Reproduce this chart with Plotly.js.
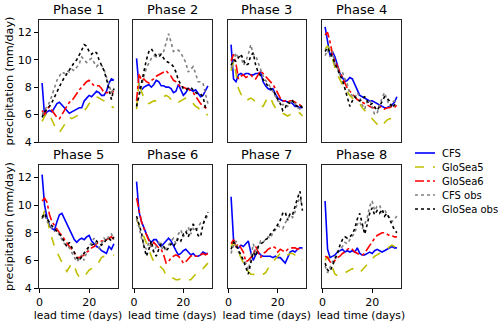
<!DOCTYPE html>
<html>
<head>
<meta charset="utf-8">
<script src="https://cdn.plot.ly/plotly-3.0.1.min.js"></script>
<style>html,body{margin:0;padding:0;background:#fff;}#chart{width:500px;height:324px;}</style>
</head>
<body>
<div id="chart"></div>
<script>
// lead time (days)
const days = [1,2,3,4,5,6,7,8,9,10,11,12,13,14,15,16,17,18,19,20,21,22,23,24,25,26,27,28,29,30];
const phases = ["Phase 1","Phase 2","Phase 3","Phase 4","Phase 5","Phase 6","Phase 7","Phase 8"];
const seriesNames = ["CFS","GloSea5","GloSea6","CFS obs","GloSea obs"];

// CFS forecast, one row per phase
const cfs = [
 [8.3,5.9,6.2,6.3,6.2,6.5,6.8,6.9,6.7,6.5,6.3,6.1,6.2,6.3,6.4,6.5,6.5,7.0,7.2,7.4,7.3,7.5,7.7,7.6,7.4,7.4,7.7,8.3,8.6,8.5],
 [10.1,8.0,7.8,8.0,8.1,8.2,8.0,8.2,8.5,8.4,8.1,8.1,8.0,8.0,7.9,7.6,7.7,8.2,7.8,7.4,7.6,7.9,7.8,7.7,7.8,7.5,7.3,7.4,7.8,8.1],
 [11.1,8.6,8.4,8.9,9.0,8.9,9.0,9.0,8.9,8.9,9.0,9.0,9.1,8.4,8.1,7.9,7.8,7.9,7.5,7.2,7.1,7.0,7.0,6.9,6.9,6.8,6.6,6.6,6.5,6.5],
 [12.4,11.3,10.3,10.6,10.2,9.6,9.0,8.7,8.4,8.5,8.7,8.6,8.2,7.7,7.4,7.3,7.2,7.1,7.0,7.0,6.9,6.8,6.7,6.6,6.5,6.5,6.6,6.7,6.9,7.3],
 [12.2,10.0,9.1,8.5,8.3,8.2,8.8,9.3,9.4,9.0,8.6,8.2,7.9,7.5,7.3,7.5,7.6,7.5,7.7,7.8,7.4,7.2,7.0,6.9,6.7,6.6,6.5,7.0,6.8,7.2],
 [11.7,9.5,8.8,8.3,7.9,7.5,7.3,7.5,7.5,7.2,7.0,7.2,7.4,7.6,7.4,7.0,6.7,6.4,6.5,6.7,6.8,6.6,6.4,6.5,6.3,6.3,6.4,6.6,6.5,6.5],
 [10.6,7.5,7.0,6.9,7.1,7.0,7.2,7.4,6.6,6.0,6.4,6.6,6.4,6.3,6.3,6.3,6.3,6.2,6.3,6.2,6.2,6.0,5.8,6.2,6.6,6.7,6.6,6.8,6.9,6.9],
 [10.3,6.8,6.2,6.3,6.4,6.6,6.7,6.8,6.6,6.7,6.6,6.7,6.6,6.9,6.5,6.4,6.4,6.5,6.6,6.5,6.7,6.8,6.7,6.6,6.7,6.8,6.9,7.0,6.9,6.9]
];
// GloSea5 forecast
const glosea5 = [
 [5.5,5.9,6.2,6.0,5.6,5.1,4.8,4.7,5.0,5.3,5.6,5.8,5.7,5.8,5.9,6.0,6.1,6.3,6.5,6.8,7.0,7.2,7.3,7.2,7.1,7.0,6.9,6.7,6.6,6.5],
 [6.4,8.5,7.7,7.2,6.9,6.8,6.9,7.0,7.0,7.1,7.2,7.3,7.4,7.3,7.1,6.9,6.8,6.9,7.0,7.1,7.2,7.2,7.0,6.8,6.6,6.5,6.3,6.1,6.0,6.0],
 [9.2,9.9,9.0,7.9,7.5,7.3,7.0,7.1,7.2,7.1,6.9,6.8,6.6,6.6,6.9,7.3,7.3,6.8,6.5,6.3,6.2,6.1,6.0,5.9,6.0,6.1,6.2,6.2,6.1,5.9],
 [10.8,11.0,10.7,10.0,9.4,8.9,8.5,8.2,7.9,7.6,7.4,7.2,7.0,6.9,6.8,6.5,6.3,6.1,5.9,5.7,5.5,5.3,5.2,5.1,5.4,5.6,5.7,5.7,5.6,5.6],
 [9.0,9.6,9.2,8.2,7.6,7.0,6.6,6.2,5.9,5.5,5.2,5.5,5.8,5.6,5.1,4.8,4.7,4.8,5.1,5.3,5.4,5.5,5.6,5.9,6.2,6.3,6.3,6.3,6.3,6.4],
 [9.0,8.5,8.1,7.7,7.3,6.8,6.3,5.9,5.7,5.6,5.5,5.3,4.9,4.9,4.8,4.7,4.6,4.6,4.7,4.7,4.6,4.6,4.6,4.8,5.0,5.2,5.3,5.4,5.6,5.8],
 [7.0,7.3,7.0,6.6,6.1,5.7,5.4,5.2,5.0,5.0,4.9,4.9,4.9,5.0,5.1,5.4,5.7,5.9,6.1,6.3,6.5,6.6,6.4,6.4,6.5,6.5,6.4,6.4,6.2,6.0],
 [6.0,6.3,5.9,5.4,5.0,4.9,4.9,5.0,5.1,5.2,5.3,5.4,5.3,5.2,5.1,5.3,5.5,5.7,5.9,6.1,6.3,6.4,6.5,6.6,6.7,6.8,7.0,7.1,7.0,6.9]
];
// GloSea6 forecast
const glosea6 = [
 [6.3,6.0,6.4,6.6,6.3,6.0,5.8,5.7,6.0,6.4,6.7,6.9,7.0,7.3,7.6,7.8,8.0,8.2,8.4,8.5,8.3,8.1,8.1,8.1,7.9,7.6,7.6,7.6,7.6,7.7],
 [7.0,9.0,8.5,8.6,8.4,8.3,8.5,8.6,8.8,8.9,9.0,9.1,9.2,9.0,8.8,8.5,8.4,8.2,8.0,8.0,7.9,7.9,7.7,7.6,7.3,7.0,6.8,6.6,6.5,6.4],
 [9.9,10.4,9.7,8.6,8.8,8.9,8.7,8.8,8.9,8.7,8.6,8.9,9.2,9.0,8.8,8.6,8.4,8.2,7.9,7.5,7.2,7.0,7.0,6.9,7.0,7.0,6.9,6.8,6.7,6.5],
 [11.8,12.0,11.3,10.4,9.9,9.5,9.0,8.6,8.2,7.9,7.7,7.5,7.3,7.1,7.0,6.9,6.8,6.7,6.6,6.5,6.5,6.6,6.6,6.5,6.4,6.5,6.5,6.6,6.5,6.7],
 [10.3,10.5,10.2,9.3,8.8,8.5,8.3,8.0,7.8,7.5,7.2,7.0,6.8,6.6,6.2,6.2,6.3,6.4,6.6,6.7,6.9,7.0,7.2,7.3,7.4,7.4,7.5,7.6,7.7,7.5],
 [10.5,9.5,8.8,8.3,7.9,7.4,7.0,7.3,7.1,6.9,6.8,6.4,5.8,5.9,6.2,6.3,6.4,6.3,6.1,5.8,5.9,6.1,6.3,6.4,6.3,6.3,6.4,6.5,6.4,6.5],
 [7.2,7.5,7.0,7.2,6.9,6.6,5.9,6.0,6.2,6.4,7.0,6.6,6.2,6.5,6.6,6.8,6.9,7.0,6.9,6.6,6.8,6.7,6.6,6.8,6.9,6.9,6.9,6.8,6.9,6.8],
 [6.3,6.2,5.9,5.8,6.0,6.2,6.3,6.5,6.6,6.8,6.9,6.8,6.6,6.5,6.4,6.4,6.5,6.8,7.1,7.3,7.6,7.8,7.9,8.0,8.0,7.9,7.8,7.8,7.7,7.7]
];
// CFS-period observations
const cfsObs = [
 [6.0,6.3,6.5,6.9,7.4,8.0,8.5,8.8,9.1,9.0,9.2,9.1,9.3,9.2,9.5,9.7,10.2,10.0,9.8,10.0,10.1,9.8,9.5,9.7,9.6,9.3,8.7,8.2,7.6,8.0],
 [6.6,7.4,8.2,8.8,9.4,9.8,10.1,10.3,10.2,10.4,10.4,10.6,11.2,11.9,11.3,10.6,10.7,10.7,10.5,10.2,9.8,9.1,9.3,9.5,9.0,8.4,8.4,8.3,7.5,6.8],
 [9.4,9.8,10.5,10.1,10.3,9.6,9.9,10.4,11.1,10.4,10.3,9.8,9.3,8.8,8.5,8.3,8.0,7.7,7.3,7.0,6.9,6.7,6.8,6.6,6.9,7.0,6.8,6.5,6.4,6.6],
 [10.3,10.7,10.2,10.6,9.6,9.4,8.9,9.1,8.6,8.2,7.5,7.4,7.2,7.6,7.3,6.7,6.4,7.0,7.1,6.6,6.0,6.1,6.7,7.2,7.6,7.1,6.6,6.9,7.0,6.8],
 [9.0,9.3,8.8,8.6,8.3,8.1,8.2,7.8,7.5,7.2,7.1,6.9,6.6,6.3,5.9,6.1,6.4,6.0,6.6,7.0,7.3,7.6,7.1,6.9,7.2,7.6,7.4,7.8,7.9,7.5],
 [9.0,8.4,7.6,7.1,6.8,7.3,6.9,6.6,7.0,7.3,7.0,6.7,6.9,7.1,7.4,7.6,7.2,7.9,8.2,7.7,8.0,8.4,7.9,8.3,8.1,8.4,8.7,8.6,8.9,9.3],
 [6.5,7.1,7.4,6.6,6.3,6.0,5.8,5.3,6.1,7.2,6.6,6.9,7.4,7.3,7.5,7.7,7.6,8.0,8.2,8.5,8.4,8.3,8.7,9.0,9.3,9.1,9.5,10.2,10.5,10.0],
 [5.6,5.1,5.5,5.9,6.3,6.6,6.8,7.0,7.3,7.2,7.5,7.8,8.0,8.6,8.8,8.3,8.6,9.1,9.9,10.3,9.6,9.9,10.0,9.5,9.7,9.3,9.1,8.8,9.0,9.2]
];
// GloSea-period observations
const gloseaObs = [
 [5.8,6.2,6.4,6.6,6.9,7.3,7.7,8.1,8.4,8.7,9.0,9.3,9.5,9.8,10.0,10.3,10.7,11.1,11.0,10.6,10.4,10.6,10.5,10.0,9.6,9.2,8.6,7.8,7.1,7.9],
 [6.6,7.5,8.2,9.2,10.0,10.6,10.8,10.5,10.3,10.2,10.4,10.1,9.9,9.8,9.7,9.5,9.1,8.5,8.2,7.9,7.8,7.9,8.0,7.8,7.6,7.5,7.5,7.3,6.5,6.4],
 [9.6,10.0,9.9,10.2,10.4,10.0,9.6,9.7,10.3,10.5,9.6,9.1,8.8,8.6,8.3,8.1,7.9,7.8,7.4,7.1,6.8,6.3,6.5,6.9,6.8,7.0,6.7,6.6,6.7,6.5],
 [10.6,10.9,10.5,10.2,9.7,9.3,9.0,8.5,7.9,7.2,6.6,7.0,7.3,7.1,7.0,7.2,7.3,7.0,6.7,6.8,6.5,6.3,6.6,7.0,7.3,7.2,7.0,6.5,6.7,6.9],
 [9.1,9.4,9.0,8.7,8.5,8.3,8.1,7.9,7.7,7.3,7.0,7.3,6.9,6.5,6.2,6.0,6.3,6.5,6.8,7.0,7.1,7.2,7.4,7.2,7.1,7.3,7.5,7.6,7.4,7.7],
 [9.2,8.6,8.0,7.0,6.3,6.8,7.4,6.6,6.3,6.8,7.2,7.0,6.7,6.9,7.2,7.0,7.3,7.6,7.4,7.9,8.1,7.7,8.2,8.6,8.4,7.8,7.7,8.6,9.1,9.5],
 [6.8,7.3,7.1,6.8,6.4,6.0,5.5,5.0,5.8,6.6,6.3,7.0,7.2,7.3,7.5,7.6,7.9,8.1,8.3,8.6,8.9,9.4,9.5,8.9,9.4,9.3,10.0,10.5,11.0,9.6],
 [5.8,5.3,5.2,5.6,6.0,6.5,7.1,7.5,7.7,7.6,7.7,7.9,8.3,9.0,9.4,8.7,7.9,8.6,9.4,9.8,9.3,9.6,9.4,9.7,9.2,9.4,9.0,8.5,8.2,8.0]
];

const allSeries = [cfs, glosea5, glosea6, cfsObs, gloseaObs];
const styles = [
  {color:'#0000ff', dash:'solid', width:1.6},
  {color:'#bfbf00', dash:'dash', width:1.6},
  {color:'#ff0000', dash:'dashdot', width:1.6},
  {color:'#808080', dash:'dot', width:1.6},
  {color:'#000000', dash:'dot', width:1.6}
];

const W = 500, H = 324;
const colPx = [[38.5,117.5],[133,211.5],[227.5,306],[321.5,400.5]];
const rowPx = [[20,142],[165,288]];

const traces = [];
const layout = {
  width: W, height: H,
  margin: {l:0, r:0, t:0, b:0},
  paper_bgcolor: '#fff', plot_bgcolor: '#fff',
  font: {family: 'DejaVu Sans', size: 11, color: '#000'},
  showlegend: false,
  annotations: [],
  shapes: []
};

for (let p = 0; p < 8; p++) {
  const r = Math.floor(p/4), c = p % 4;
  const sfx = p === 0 ? '' : String(p+1);
  const xd = [colPx[c][0]/W, colPx[c][1]/W];
  const yd = [1 - rowPx[r][1]/H, 1 - rowPx[r][0]/H];
  layout['xaxis'+sfx] = {
    domain: xd, anchor: 'y'+sfx, range: [-0.45, 31.45],
    tickvals: [0, 20], showticklabels: r === 1, ticks: r === 1 ? 'outside' : '',
    ticklen: 3.5, tickwidth: 1, tickcolor:'#000',
    showgrid: false, zeroline: false, showline: true, mirror: true, linecolor: '#222', linewidth: 1,
    tickfont: {size: 11},
    title: r === 1 ? {text: 'lead time (days)', font:{size:10.8}, standoff: 2} : {text: ''}
  };
  layout['yaxis'+sfx] = {
    domain: yd, anchor: 'x'+sfx, range: [4, 12.9],
    tickvals: [4,6,8,10,12], showticklabels: c === 0, ticks: c === 0 ? 'outside' : '',
    ticklen: 3.5, tickwidth: 1, tickcolor:'#000',
    showgrid: false, zeroline: false, showline: true, mirror: true, linecolor: '#222', linewidth: 1,
    tickfont: {size: 11},
    title: c === 0 ? {text: 'precipitation (mm/day)', font:{size:11.2}, standoff: 1} : {text: ''}
  };
  layout.annotations.push({
    text: phases[p], xref: 'paper', yref: 'paper',
    x: (xd[0]+xd[1])/2, y: yd[1], xanchor: 'center', yanchor: 'bottom', yshift: 1,
    showarrow: false, font: {size: 13, family: 'DejaVu Sans', color:'#000'}
  });
  for (let s = 0; s < 5; s++) {
    traces.push({
      type: 'scatter', mode: 'lines',
      x: days, y: allSeries[s][p],
      xaxis: 'x'+sfx, yaxis: 'y'+sfx,
      name: seriesNames[s], showlegend: false,
      line: {color: styles[s].color, dash: styles[s].dash, width: styles[s].width},
      hoverinfo: 'skip'
    });
  }
}

// compact legend (matplotlib-style spacing), built from seriesNames and styles
const legX0 = 415, legX1 = 435, legTextX = 440, legY0 = 153, legDy = 14;
seriesNames.forEach((nm, i) => {
  const yy = 1 - (legY0 + i*legDy)/H;
  layout.shapes.push({type:'line', xref:'paper', yref:'paper', x0: legX0/W, x1: legX1/W, y0: yy, y1: yy,
    line:{color: styles[i].color, dash: styles[i].dash, width: styles[i].width}});
  layout.annotations.push({text: nm, xref:'paper', yref:'paper', x: legTextX/W, y: yy,
    xanchor:'left', yanchor:'middle', showarrow:false, font:{size:10, family:'DejaVu Sans', color:'#000'}});
});

Plotly.newPlot('chart', traces, layout, {displayModeBar: false, staticPlot: true});
</script>
</body>
</html>
